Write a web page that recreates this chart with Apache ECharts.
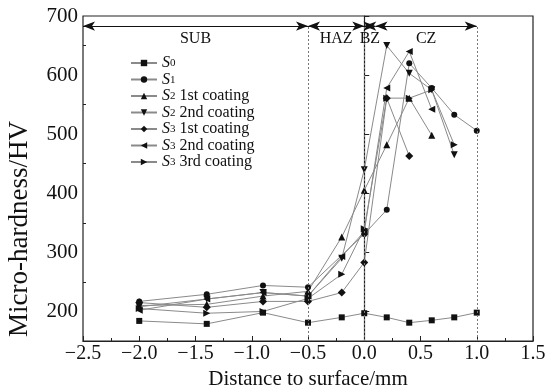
<!DOCTYPE html>
<html><head><meta charset="utf-8">
<script src="https://cdn.jsdelivr.net/npm/echarts@6/dist/echarts.min.js"></script>
<style>html,body{margin:0;padding:0;background:#fff}#c{width:547px;height:386px}</style>
</head><body><div id="c"></div>
<script>
// ---- data ----
const names = ['S0', 'S1', 'S2 1st coating', 'S2 2nd coating', 'S3 1st coating', 'S3 2nd coating', 'S3 3rd coating'];
const xS0 = [-2.0, -1.4, -0.9, -0.5, -0.2, 0, 0.2, 0.4, 0.6, 0.8, 1.0];
const yS0 = [184, 179, 198, 181, 190, 197, 190, 181, 185, 190, 198];
const xS1 = [-2.0, -1.4, -0.9, -0.5, 0, 0.2, 0.4, 0.6, 0.8, 1.0];
const yS1 = [217, 229, 244, 241, 331, 372, 620, 578, 533, 506];
const xS2a = [-2.0, -1.4, -0.9, -0.5, -0.2, 0, 0.2, 0.4, 0.6];
const yS2a = [210, 212, 226, 234, 326, 405, 482, 561, 498];
const xS2b = [-2.0, -1.4, -0.9, -0.5, -0.2, 0, 0.2, 0.4, 0.6, 0.8];
const yS2b = [208, 221, 232, 226, 290, 440, 650, 603, 575, 465];
const xS3a = [-2.0, -1.4, -0.9, -0.5, -0.2, 0, 0.2, 0.4];
const yS3a = [215, 207, 217, 217, 232, 283, 561, 463];
const xS3b = [-2.0, -1.4, -0.9, -0.5, -0.2, 0, 0.2, 0.4, 0.6];
const yS3b = [202, 221, 232, 226, 293, 335, 578, 640, 542];
const xS3c = [-2.0, -1.4, -0.9, -0.5, -0.2, 0, 0.2, 0.4, 0.6, 0.8];
const yS3c = [205, 197, 200, 222, 263, 340, 561, 561, 575, 482];
const yMajorTicks = [200, 300, 400, 500, 600, 700];
const yMinorTicks = [250, 350, 450, 550, 650];
const zoneBounds = [-0.5, 0, 1.0];
const zones = [
  {name: 'SUB', from: -2.5, to: -0.5},
  {name: 'HAZ', from: -0.5, to: 0},
  {name: 'BZ', from: 0, to: 0.1},
  {name: 'CZ', from: 0.1, to: 1.0}
];
const arrowY = 683;
const xTitle = 'Distance to surface/mm';
const yTitle = 'Micro-hardness/HV';

// ---- chart ----
const font = 'Liberation Serif';
const zip = (xs, ys) => xs.map((x, i) => [x, ys[i]]);
const seriesData = [zip(xS0, yS0), zip(xS1, yS1), zip(xS2a, yS2a), zip(xS2b, yS2b), zip(xS3a, yS3a), zip(xS3b, yS3b), zip(xS3c, yS3c)];
const symbols = ['rect', 'circle', 'triangle', 'triangle', 'diamond', 'triangle', 'triangle'];
const rotations = [0, 0, 0, 180, 0, 90, -90];
const sizes = [6, 6, 7, 7, 8, 7, 7];

const series = seriesData.map((d, i) => ({
  name: names[i],
  type: 'line',
  data: d,
  symbol: symbols[i],
  symbolRotate: rotations[i],
  symbolSize: sizes[i],
  showAllSymbol: true,
  itemStyle: {color: '#111'},
  lineStyle: {color: '#8a8a8a', width: 1},
  z: 3
}));

series[0].markLine = {
  silent: true,
  animation: false,
  symbol: ['none', 'none'],
  lineStyle: {color: '#777', type: [2, 2], width: 1},
  label: {show: false},
  data: zoneBounds.map(x => [{coord: [x, 150]}, {coord: [x, arrowY]}])
};
series.push({
  type: 'line',
  data: [],
  silent: true,
  markLine: {
    silent: true,
    animation: false,
    symbol: ['arrow', 'arrow'],
    symbolSize: [7, 12],
    lineStyle: {color: '#111', type: 'solid', width: 1.2},
    label: {
      show: true,
      position: 'insideMiddleBottom',
      formatter: p => p.name,
      color: '#111',
      fontFamily: font,
      fontSize: 16,
      distance: 5
    },
    data: zones.map(z => [{name: z.name, coord: [z.from, arrowY]}, {coord: [z.to, arrowY]}])
  }
});

const chart = echarts.init(document.getElementById('c'));
chart.setOption({
  animation: false,
  backgroundColor: '#fff',
  grid: {left: 83, right: 14, top: 16, bottom: 45, outerBoundsMode: 'none', containLabel: false, show: true, borderColor: '#222', borderWidth: 1.2, backgroundColor: 'transparent'},
  graphic: [{
    type: 'text',
    x: 20, y: 229,
    rotation: Math.PI / 2,
    style: {text: yTitle, fill: '#111', font: '27px "Liberation Serif"', align: 'center', verticalAlign: 'middle'}
  }],
  legend: {
    orient: 'vertical',
    left: 130,
    top: 53,
    padding: 0,
    itemWidth: 26,
    itemHeight: 8,
    itemGap: -1.5,
    data: names,
    formatter: n => {
      const m = n.match(/^S(\d)(.*)$/);
      return '{i|S}{s|' + m[1] + '}{t|' + m[2] + '}';
    },
    textStyle: {
      color: '#111',
      lineHeight: 12,
      rich: {
        i: {fontFamily: font, fontStyle: 'italic', fontSize: 16, lineHeight: 12},
        s: {fontFamily: font, fontSize: 11, lineHeight: 8, verticalAlign: 'bottom', padding: [5, 0, 0, 0]},
        t: {fontFamily: font, fontSize: 16, lineHeight: 12}
      }
    }
  },
  xAxis: {
    type: 'value',
    min: -2.5, max: 1.5, interval: 0.5,
    name: xTitle,
    nameLocation: 'middle',
    nameGap: 25,
    nameTextStyle: {fontFamily: font, fontSize: 21, color: '#111'},
    axisLine: {lineStyle: {color: '#222', width: 1.2}},
    axisTick: {inside: true, length: 5, lineStyle: {color: '#222'}},
    minorTick: {show: true, splitNumber: 2, length: 3, lineStyle: {color: '#222'}},
    splitLine: {show: false},
    axisLabel: {fontFamily: font, fontSize: 20, color: '#111', margin: 3, formatter: v => v.toFixed(1).replace('-', '\u2212')}
  },
  yAxis: [{
    type: 'value',
    min: 150, max: 700, interval: 50,
    axisLine: {lineStyle: {color: '#222', width: 1.2}},
    axisTick: {inside: true, length: 5, customValues: yMajorTicks, lineStyle: {color: '#222'}},
    splitLine: {show: false},
    axisLabel: {fontFamily: font, fontSize: 21, color: '#111', margin: 5, customValues: yMajorTicks}
  }, {
    type: 'value',
    min: 150, max: 700, interval: 50,
    position: 'left',
    axisLine: {show: false},
    axisTick: {inside: true, length: 3, customValues: yMinorTicks, lineStyle: {color: '#222'}},
    splitLine: {show: false},
    axisLabel: {show: false}
  }],
  series: series
});
</script>
</body></html>
